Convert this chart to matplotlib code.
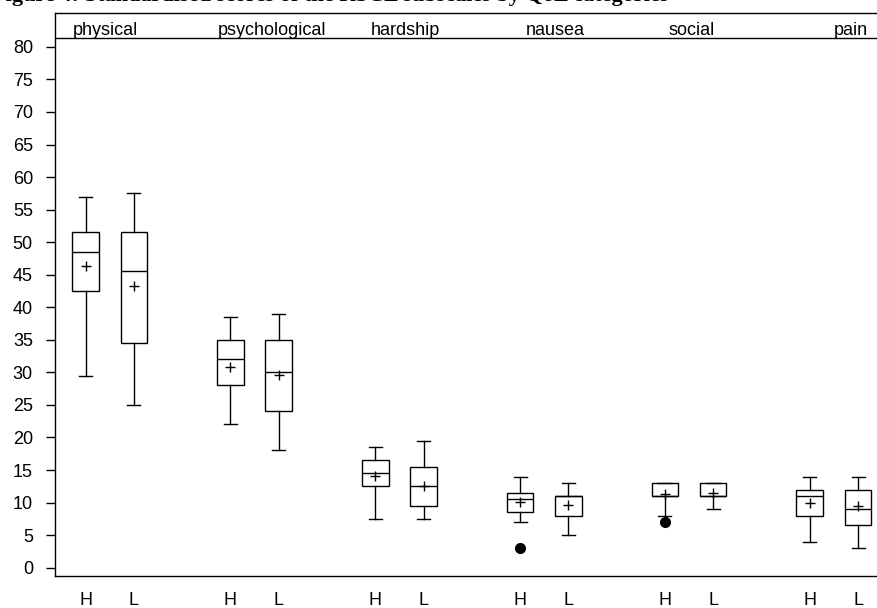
import matplotlib
matplotlib.use("Agg")
import matplotlib.pyplot as plt
import numpy as np

# subscales and QoL level within each subscale
groups = ['physical', 'psychological', 'hardship', 'nausea', 'social', 'pain']
levels = ['H', 'L']

# box statistics, ordered physical H, physical L, psychological H, ...
whislo = [29.5, 25.0, 22.0, 18.0, 7.5, 7.5, 7.0, 5.0, 8.0, 9.0, 4.0, 3.0]
q1 = [42.5, 34.5, 28.0, 24.0, 12.5, 9.5, 8.5, 8.0, 11.0, 11.0, 8.0, 6.5]
med = [48.5, 45.5, 32.0, 30.0, 14.5, 12.5, 10.5, 11.0, 11.0, 11.0, 11.0, 9.0]
q3 = [51.5, 51.5, 35.0, 35.0, 16.5, 15.5, 11.5, 11.0, 13.0, 13.0, 12.0, 12.0]
whishi = [57.0, 57.5, 38.5, 39.0, 18.5, 19.5, 14.0, 13.0, 13.0, 13.0, 14.0, 14.0]
means = [46.3, 43.3, 30.9, 29.6, 14.1, 12.6, 10.1, 9.6, 11.3, 11.4, 9.9, 9.4]
outliers = [[], [], [], [], [], [], [3.0], [], [7.0], [], [], []]

yticks = list(range(0, 85, 5))

plt.rcParams['font.family'] = ['Liberation Sans', 'DejaVu Sans']

fig = plt.figure(figsize=(8.78, 6.08), dpi=100)
ax = fig.add_axes([55 / 878, 1 - 576 / 608, 1 - 55 / 878 + 0.002, (576 - 13) / 608])

# positions: H at 3*i, L at 3*i+1, one empty slot between groups
pos = []
for i in range(len(groups)):
    for j in range(len(levels)):
        pos.append(3 * i + j)

stats = []
for k in range(len(pos)):
    stats.append(dict(whislo=whislo[k], q1=q1[k], med=med[k], q3=q3[k],
                      whishi=whishi[k], mean=means[k], fliers=outliers[k]))

line = dict(color='black', linewidth=1.0)
ax.bxp(stats, positions=pos, widths=0.55, capwidths=0.27, showmeans=True,
       patch_artist=True,
       boxprops=dict(facecolor='white', edgecolor='black', linewidth=1.0),
       whiskerprops=line, capprops=line, medianprops=line,
       meanprops=dict(marker='+', markersize=7, markeredgecolor='black',
                      markeredgewidth=1.0, linestyle='none'),
       flierprops=dict(marker='o', markersize=7, markerfacecolor='black',
                       markeredgecolor='black'))

ax.set_xlim(-0.633, 16.45)
ax.set_ylim(-1.28, 85.2)
ax.set_yticks(yticks)
ax.set_yticklabels([str(v) for v in yticks])
ax.set_xticks(pos)
ax.set_xticklabels(levels * len(groups))
ax.tick_params(axis='y', length=6.5, width=1, pad=9.4, labelsize=13)
ax.tick_params(axis='x', length=0, pad=11.5, labelsize=13)
ax.spines['right'].set_visible(False)
for s in ['left', 'top', 'bottom']:
    ax.spines[s].set_linewidth(1.0)

# header strip with subscale names
ax.axhline(81.37, color='black', linewidth=1.0)
label_shift = [-0.08, 0.36, 0.12, 0.22, 0.06, 0.35]
for i, g in enumerate(groups):
    ax.text(3 * i + 0.5 + label_shift[i], 81.85, g, ha='center', va='baseline',
            fontsize=13)

# caption above the frame, mostly cut off by the top edge as in the source
fig.text(-8 / 878, 1 - 1.5 / 608,
         'Figure 4: Standardised scores of the RSCL subscales by QoL categories',
         family=['Liberation Serif', 'DejaVu Serif'], fontweight='bold',
         fontsize=16, ha='left', va='baseline')

fig.savefig('out.png', dpi=100)
